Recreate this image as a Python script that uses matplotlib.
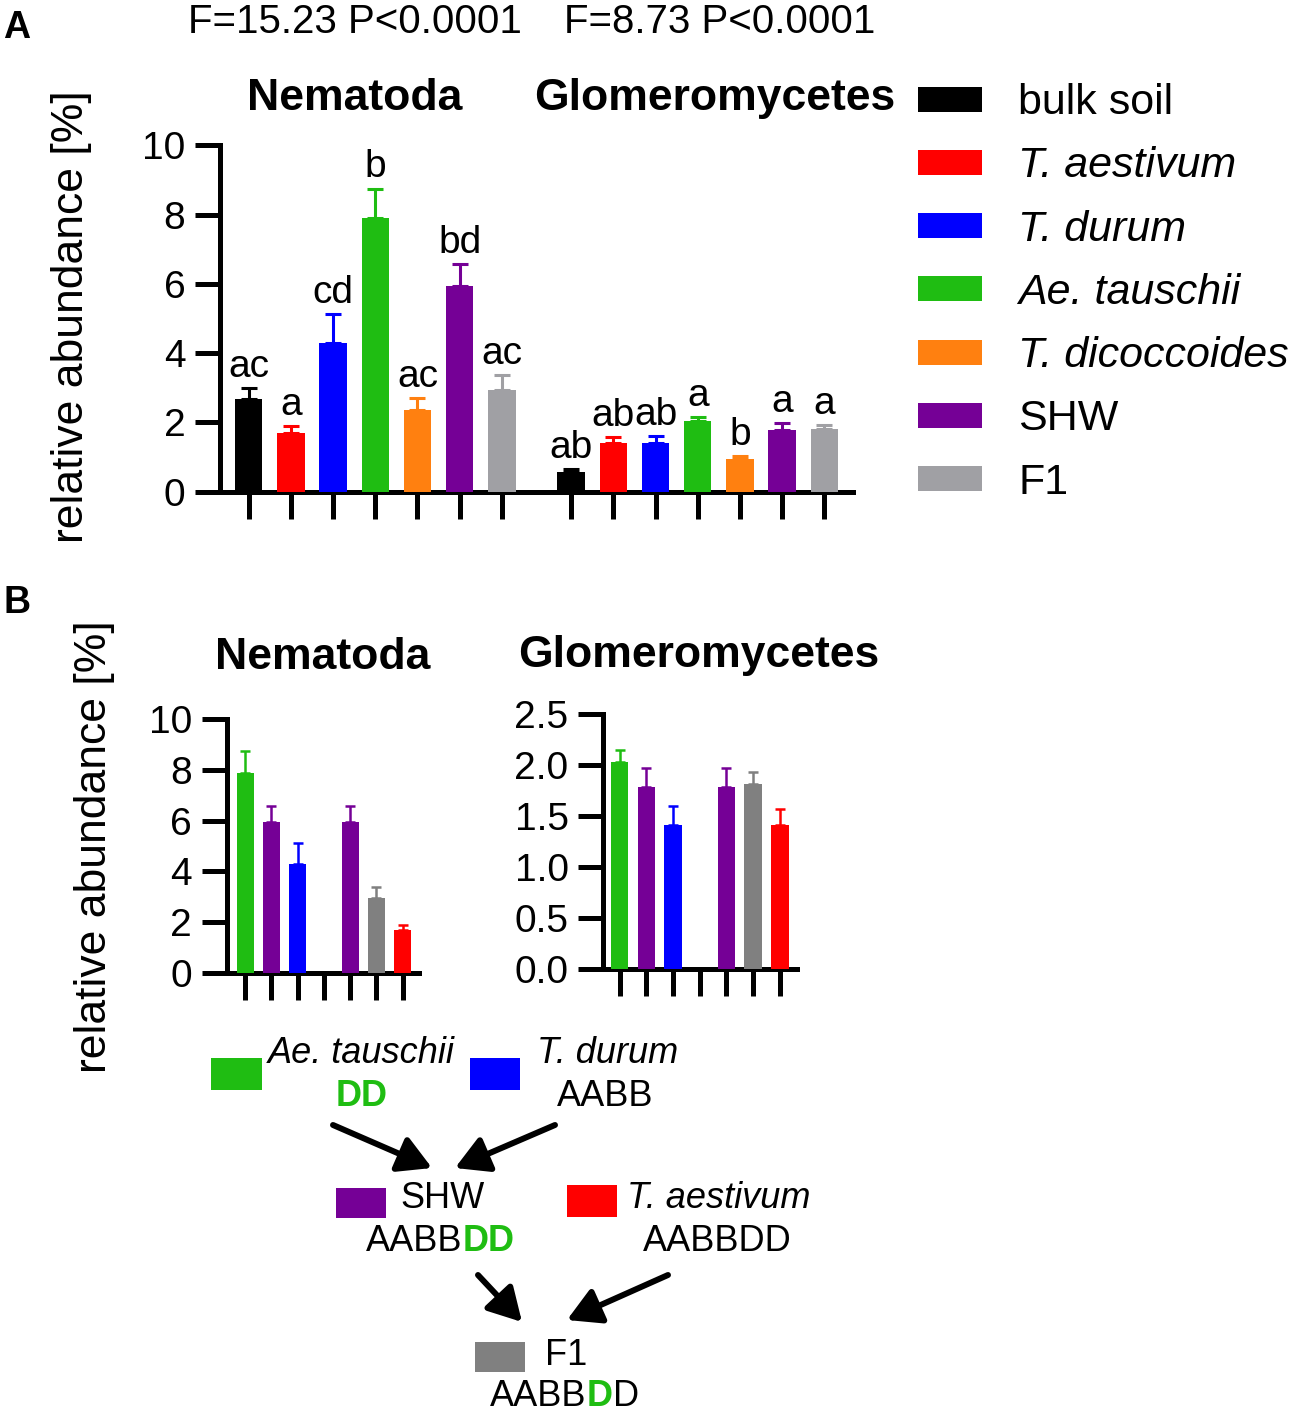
import numpy as np
import matplotlib
matplotlib.use('Agg')
import matplotlib.pyplot as plt
from matplotlib.patches import Rectangle

plt.rcParams['font.family'] = ['Liberation Sans', 'DejaVu Sans']

W, H = 1301, 1412

groups = ['bulk soil', 'T. aestivum', 'T. durum', 'Ae. tauschii', 'T. dicoccoides', 'SHW', 'F1']
italic = [False, True, True, True, True, False, False]
colors = ['#000000', '#ff0000', '#0000ff', '#1fbd12', '#ff8010', '#750096', '#a0a0a4']

nem_mean = [2.69, 1.70, 4.30, 7.89, 2.36, 5.93, 2.93]
nem_sem = [0.29, 0.19, 0.82, 0.86, 0.35, 0.63, 0.44]
glom_mean = [0.56, 1.41, 1.41, 2.03, 0.94, 1.79, 1.81]
glom_sem = [0.09, 0.16, 0.19, 0.12, 0.09, 0.18, 0.12]
nem_letters = ['ac', 'a', 'cd', 'b', 'ac', 'bd', 'ac']
glom_letters = ['ab', 'ab', 'ab', 'a', 'b', 'a', 'a']
f_stats = ['F=15.23 P<0.0001', 'F=8.73 P<0.0001']
taxa = ['Nematoda', 'Glomeromycetes']

# panel B: Ae. tauschii, SHW, T. durum, (empty), SHW, F1, T. aestivum
b_order = [3, 5, 2, None, 5, 6, 1]
f1_dark = '#808080'

fig = plt.figure(figsize=(W / 100, H / 100), dpi=100)


def px_axes(l, t, r, b):
    ax = fig.add_axes([l / W, 1 - b / H, (r - l) / W, (b - t) / H])
    ax.set_facecolor('none')
    return ax


def style(ax, yticks, fmt):
    for s in ['top', 'right']:
        ax.spines[s].set_visible(False)
    for s in ['left', 'bottom']:
        ax.spines[s].set_linewidth(3.6)
    ax.tick_params(width=3.6, length=18, labelsize=28, pad=7)
    ax.tick_params(axis='x', length=19.5)
    ax.set_yticks(yticks)
    ax.set_yticklabels([fmt.format(v) for v in yticks])
    ax.set_ylim(yticks[0], yticks[-1])


def draw_bar(ax, x, m, e, c, cap, lw):
    ax.bar(x, m, 0.65, color=c, edgecolor='none', zorder=3)
    ax.errorbar(x, m, yerr=[[0], [e]], fmt='none', ecolor=c,
                elinewidth=lw, capsize=cap, capthick=lw, zorder=2)


# ---- panel A
axA = px_axes(220, 145.3, 853, 491.7)
nem_x = np.arange(7)
glom_x = np.arange(7) + 7.64
for xs, means, sems, letters in [(nem_x, nem_mean, nem_sem, nem_letters),
                                 (glom_x, glom_mean, glom_sem, glom_letters)]:
    for i in range(7):
        draw_bar(axA, xs[i], means[i], sems[i], colors[i], 5.8, 2.2)
        axA.annotate(letters[i], (xs[i], means[i] + sems[i]), xytext=(0, 8),
                     textcoords='offset points', ha='center', va='baseline', fontsize=28)
style(axA, [0, 2, 4, 6, 8, 10], '{:g}')
axA.set_xlim(-0.68, 14.32)
axA.set_xticks(np.concatenate([nem_x, glom_x]))
axA.set_xticklabels([])

# ---- panel B
b_axes = [(px_axes(226.7, 719.3, 419.3, 972.7), nem_mean, nem_sem, [0, 2, 4, 6, 8, 10], '{:g}', (-0.70, 6.63)),
          (px_axes(603.3, 714.0, 796.7, 969.3), glom_mean, glom_sem, [0, 0.5, 1.0, 1.5, 2.0, 2.5], '{:.1f}', (-0.61, 6.63))]
for ax, means, sems, yt, fmt, xl in b_axes:
    for j, g in enumerate(b_order):
        if g is None:
            continue
        c = f1_dark if groups[g] == 'F1' else colors[g]
        draw_bar(ax, j, means[g], sems[g], c, 3.8, 1.8)
    style(ax, yt, fmt)
    ax.set_xlim(*xl)
    ax.set_xticks(range(len(b_order)))
    ax.set_xticklabels([])

# ---- overlay for text, legend and diagram (pixel coordinates)
ov = fig.add_axes([0, 0, 1, 1])
ov.set_xlim(0, W)
ov.set_ylim(H, 0)
ov.axis('off')

ov.text(3, 38, 'A', fontsize=27, fontweight='bold', ha='left', va='baseline')
ov.text(3, 613, 'B', fontsize=27, fontweight='bold', ha='left', va='baseline')
ov.text(355, 33, f_stats[0], fontsize=29, ha='center', va='baseline')
ov.text(720, 33, f_stats[1], fontsize=29, ha='center', va='baseline')
ov.text(355, 110, taxa[0], fontsize=32, fontweight='bold', ha='center', va='baseline')
ov.text(715, 110, taxa[1], fontsize=32, fontweight='bold', ha='center', va='baseline')
ov.text(323, 669, taxa[0], fontsize=32, fontweight='bold', ha='center', va='baseline')
ov.text(699, 667, taxa[1], fontsize=32, fontweight='bold', ha='center', va='baseline')
ov.text(72, 317, 'relative abundance [%]', fontsize=32, rotation=90, ha='center', va='center')
ov.text(95, 847, 'relative abundance [%]', fontsize=32, rotation=90, ha='center', va='center')

# legend
for i, g in enumerate(groups):
    yc = 99 + 63.3 * i
    ov.add_patch(Rectangle((918, yc - 12.5), 64, 25, color=colors[i], lw=0))
    ov.text(1018, yc + 15, g, fontsize=31, style='italic' if italic[i] else 'normal',
            ha='left', va='baseline')

# breeding diagram
green = colors[3]


def multi_text(x, y, parts, size=26):
    s, c, w = parts[0]
    t = ov.text(x, y, s, color=c, fontweight=w, fontsize=size, ha='left', va='baseline')
    for s, c, w in parts[1:]:
        t = ov.annotate(s, xy=(1, 0), xycoords=t, color=c, fontweight=w,
                        fontsize=size, ha='left', va='bottom')


diag_boxes = [(3, 211, 1058, 51, 32), (2, 470, 1058, 50, 32), (5, 336, 1188, 50, 30),
              (1, 567, 1185, 50, 32), (6, 475, 1342, 50, 30)]
for g, x, y, w, h in diag_boxes:
    c = f1_dark if groups[g] == 'F1' else colors[g]
    ov.add_patch(Rectangle((x, y), w, h, color=c, lw=0))

ov.text(268, 1063, 'Ae. tauschii', fontsize=26, style='italic', ha='left', va='baseline')
ov.text(362, 1106, 'DD', fontsize=26, fontweight='bold', color=green, ha='center', va='baseline')
ov.text(537, 1063, 'T. durum', fontsize=26, style='italic', ha='left', va='baseline')
ov.text(557, 1106, 'AABB', fontsize=26, ha='left', va='baseline')
ov.text(400, 1208, 'SHW', fontsize=26, ha='left', va='baseline')
multi_text(366, 1251, [('AABB', 'black', 'normal'), ('DD', green, 'bold')])
ov.text(627, 1208, 'T. aestivum', fontsize=26, style='italic', ha='left', va='baseline')
ov.text(643, 1251, 'AABBDD', fontsize=26, ha='left', va='baseline')
ov.text(545, 1365, 'F1', fontsize=26, ha='left', va='baseline')
multi_text(490, 1406, [('AABB', 'black', 'normal'), ('D', green, 'bold'), ('D', 'black', 'normal')])

arrows = [((333, 1125), (432, 1168)), ((555, 1125), (455, 1168)),
          ((478, 1275), (522, 1322)), ((668, 1275), (567, 1320))]
for (x0, y0), (x1, y1) in arrows:
    ov.annotate('', xy=(x1, y1), xytext=(x0, y0),
                arrowprops=dict(arrowstyle='-|>,head_length=0.8,head_width=0.45',
                                lw=4.3, color='black', mutation_scale=25,
                                shrinkA=0, shrinkB=0))

fig.savefig('out.png', dpi=100)
